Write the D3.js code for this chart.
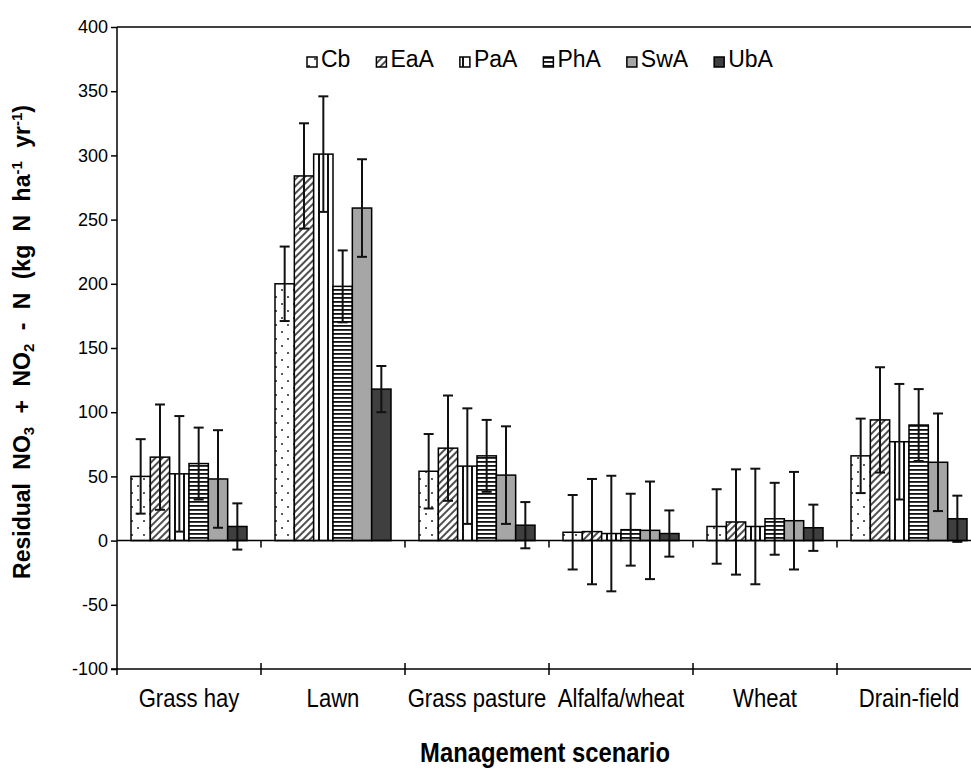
<!DOCTYPE html>
<html>
    <head>
        <meta charset="utf-8">
        <script src="https://d3js.org/d3.v7.min.js"></script>
        <style>
            body { margin: 0; background: white; }
        </style>
    </head>

    <body>
        <div id="chart-container"></div>

        <script>
            // Data
            var categories = ["Grass hay", "Lawn", "Grass pasture", "Alfalfa/wheat", "Wheat", "Drain-field"];
            var seriesNames = ["Cb", "EaA", "PaA", "PhA", "SwA", "UbA"];

            var valCb  = [50, 200, 54, 6.5, 11, 66];
            var valEaA = [65, 284, 72, 7, 14.5, 94];
            var valPaA = [52, 301, 58, 5.5, 11, 77];
            var valPhA = [60, 198, 66, 8.5, 17, 90];
            var valSwA = [48, 259, 51, 8, 15.5, 61];
            var valUbA = [11, 118, 12, 5.5, 10, 17];

            // error bar half-widths, one per series
            var errors = [29, 41, 45, 28, 38, 18];

            var yTicks = [-100, -50, 0, 50, 100, 150, 200, 250, 300, 350, 400];

            var seriesValues = [valCb, valEaA, valPaA, valPhA, valSwA, valUbA];

            // Dimensions
            var W = 971, H = 768;
            var plotLeft = 117, plotTop = 27, plotBottom = 669;
            var catWidth = 144;
            var narrow = 0.85; // squeeze for the narrow font look

            var svg = d3.select("#chart-container")
                .append("svg")
                    .attr("width", W)
                    .attr("height", H);

            // patterns
            var defs = svg.append("defs");

            var pCb = defs.append("pattern").attr("id", "pCb")
                .attr("patternUnits", "userSpaceOnUse")
                .attr("width", 12).attr("height", 14);
            pCb.append("rect").attr("width", 12).attr("height", 14).attr("fill", "white");
            pCb.append("circle").attr("cx", 3).attr("cy", 3).attr("r", 1).attr("fill", "#222");
            pCb.append("circle").attr("cx", 9).attr("cy", 10).attr("r", 1).attr("fill", "#222");

            var pEaA = defs.append("pattern").attr("id", "pEaA")
                .attr("patternUnits", "userSpaceOnUse")
                .attr("width", 5).attr("height", 5)
                .attr("patternTransform", "rotate(45)");
            pEaA.append("rect").attr("width", 5).attr("height", 5).attr("fill", "white");
            pEaA.append("line").attr("x1", 1).attr("y1", 0).attr("x2", 1).attr("y2", 5)
                .attr("stroke", "#222").attr("stroke-width", 1.6);

            var pPaA = defs.append("pattern").attr("id", "pPaA")
                .attr("patternUnits", "userSpaceOnUse")
                .attr("width", 9).attr("height", 4);
            pPaA.append("rect").attr("width", 9).attr("height", 4).attr("fill", "white");
            pPaA.append("rect").attr("x", 3).attr("width", 2).attr("height", 4).attr("fill", "#111");

            var pPhA = defs.append("pattern").attr("id", "pPhA")
                .attr("patternUnits", "userSpaceOnUse")
                .attr("width", 4).attr("height", 4);
            pPhA.append("rect").attr("width", 4).attr("height", 4).attr("fill", "white");
            pPhA.append("rect").attr("y", 1).attr("width", 4).attr("height", 1.8).attr("fill", "#111");

            var fills = d3.scaleOrdinal()
                .domain(seriesNames)
                .range(["url(#pCb)", "url(#pEaA)", "url(#pPaA)", "url(#pPhA)", "#a6a6a6", "#3f3f3f"]);

            // scales
            var x = d3.scaleBand()
                .domain(categories)
                .range([plotLeft, plotLeft + catWidth * categories.length])
                .padding(0);

            var xInner = d3.scaleBand()
                .domain(seriesNames)
                .range([14, catWidth - 14])
                .padding(0);

            var y = d3.scaleLinear()
                .domain([-100, 400])
                .range([plotBottom, plotTop]);

            // top border
            svg.append("line")
                .attr("x1", plotLeft).attr("x2", W)
                .attr("y1", y(400)).attr("y2", y(400))
                .attr("stroke", "black").attr("stroke-width", 1.5);

            // Y axis
            var yAxis = svg.append("g")
                .attr("transform", "translate(" + plotLeft + ",0)")
                .call(d3.axisLeft(y).tickValues(yTicks).tickSize(6).tickPadding(3)
                    .tickFormat(function(d) { return String(d); }));
            yAxis.select(".domain").attr("stroke-width", 1.5).attr("d", "M0," + y(400) + "V" + (plotBottom + 6));
            yAxis.selectAll(".tick line").attr("stroke-width", 1.5);
            yAxis.selectAll("text")
                .attr("font-family", "Liberation Sans, Arial, sans-serif")
                .attr("font-size", 18)
                .attr("fill", "black");

            var boundaries = d3.range(categories.length + 1).map(function(i) { return plotLeft + i * catWidth; });

            // bottom axis line with crossing ticks
            svg.append("line")
                .attr("x1", plotLeft - 6).attr("x2", W)
                .attr("y1", plotBottom).attr("y2", plotBottom)
                .attr("stroke", "black").attr("stroke-width", 1.5);
            svg.selectAll(".btick")
                .data(boundaries.slice(1))
                .enter()
                .append("line")
                    .attr("x1", function(d) { return d; }).attr("x2", function(d) { return d; })
                    .attr("y1", plotBottom - 6).attr("y2", plotBottom + 6)
                    .attr("stroke", "black").attr("stroke-width", 1.5);

            // category labels
            svg.selectAll(".xlabel")
                .data(categories)
                .enter()
                .append("text")
                    .attr("transform", function(d) {
                        return "translate(" + (x(d) + x.bandwidth() / 2) + ",707) scale(" + narrow + ",1)";
                    })
                    .attr("text-anchor", "middle")
                    .attr("font-family", "Liberation Sans, Arial, sans-serif")
                    .attr("font-size", 26)
                    .text(function(d) { return d; });

            // bars
            var groups = svg.selectAll(".group")
                .data(categories)
                .enter()
                .append("g")
                    .attr("transform", function(d) { return "translate(" + x(d) + ",0)"; });

            groups.selectAll("rect")
                .data(function(d, ci) {
                    return seriesNames.map(function(s, si) {
                        return {series: s, value: seriesValues[si][ci], err: errors[si]};
                    });
                })
                .enter()
                .append("rect")
                    .attr("x", function(d) { return xInner(d.series); })
                    .attr("y", function(d) { return y(Math.max(0, d.value)); })
                    .attr("width", xInner.bandwidth())
                    .attr("height", function(d) { return Math.abs(y(d.value) - y(0)); })
                    .attr("fill", function(d) { return fills(d.series); })
                    .attr("stroke", "black")
                    .attr("stroke-width", 1.5);

            // zero line with downward ticks
            svg.append("line")
                .attr("x1", plotLeft).attr("x2", W)
                .attr("y1", y(0)).attr("y2", y(0))
                .attr("stroke", "black").attr("stroke-width", 1.5);
            svg.selectAll(".ztick")
                .data(boundaries.slice(1))
                .enter()
                .append("line")
                    .attr("x1", function(d) { return d; }).attr("x2", function(d) { return d; })
                    .attr("y1", y(0)).attr("y2", y(0) + 7)
                    .attr("stroke", "black").attr("stroke-width", 1.5);

            // error bars
            var errG = groups.selectAll(".err")
                .data(function(d, ci) {
                    return seriesNames.map(function(s, si) {
                        return {series: s, value: seriesValues[si][ci], err: errors[si]};
                    });
                })
                .enter()
                .append("g")
                    .attr("transform", function(d) { return "translate(" + (xInner(d.series) + xInner.bandwidth() / 2) + ",0)"; });
            errG.append("line")
                .attr("y1", function(d) { return y(d.value + d.err); })
                .attr("y2", function(d) { return y(d.value - d.err); })
                .attr("stroke", "#111").attr("stroke-width", 2);
            errG.append("line")
                .attr("x1", -5).attr("x2", 5)
                .attr("y1", function(d) { return y(d.value + d.err); })
                .attr("y2", function(d) { return y(d.value + d.err); })
                .attr("stroke", "#111").attr("stroke-width", 2);
            errG.append("line")
                .attr("x1", -5).attr("x2", 5)
                .attr("y1", function(d) { return y(d.value - d.err); })
                .attr("y2", function(d) { return y(d.value - d.err); })
                .attr("stroke", "#111").attr("stroke-width", 2);

            // Legend
            var lx = 307;
            seriesNames.forEach(function(s) {
                svg.append("rect")
                    .attr("x", lx).attr("y", 57)
                    .attr("width", 10).attr("height", 10)
                    .attr("fill", fills(s))
                    .attr("stroke", "black").attr("stroke-width", 1.5);
                var t = svg.append("text")
                    .attr("x", lx + 14).attr("y", 67)
                    .attr("font-family", "Liberation Sans, Arial, sans-serif")
                    .attr("font-size", 23)
                    .text(s);
                lx = lx + 14 + t.node().getComputedTextLength() + 26;
            });

            // axis titles
            svg.append("text")
                .attr("transform", "translate(545,762) scale(" + narrow + ",1)")
                .attr("text-anchor", "middle")
                .attr("font-family", "Liberation Sans, Arial, sans-serif")
                .attr("font-weight", "bold")
                .attr("font-size", 28)
                .text("Management scenario");

            var yTitle = svg.append("text")
                .attr("transform", "translate(30,342) rotate(-90)")
                .attr("text-anchor", "middle")
                .attr("font-family", "Liberation Sans, Arial, sans-serif")
                .attr("font-weight", "bold")
                .attr("font-size", 23)
                .attr("word-spacing", 7);
            yTitle.append("tspan").text("Residual NO");
            yTitle.append("tspan").attr("dy", 4).attr("font-size", 15).text("3");
            yTitle.append("tspan").attr("dy", -4).text(" + NO");
            yTitle.append("tspan").attr("dy", 4).attr("font-size", 15).text("2");
            yTitle.append("tspan").attr("dy", -4).text(" - N (kg N ha");
            yTitle.append("tspan").attr("dy", -8).attr("font-size", 15).text("-1");
            yTitle.append("tspan").attr("dy", 8).text(" yr");
            yTitle.append("tspan").attr("dy", -8).attr("font-size", 15).text("-1");
            yTitle.append("tspan").attr("dy", 8).text(")");

        </script>
    </body>
</html>
